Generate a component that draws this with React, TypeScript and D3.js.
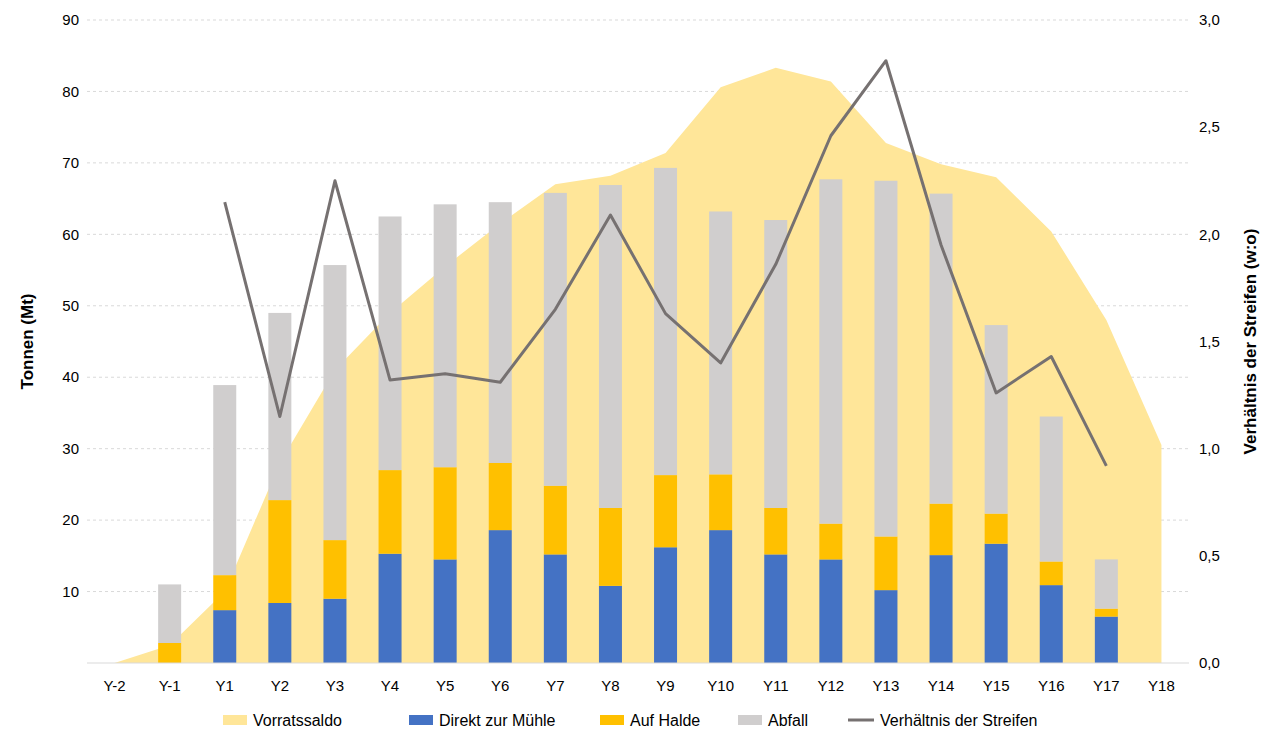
import * as d3 from 'd3';

const categories = ['Y-2','Y-1','Y1','Y2','Y3','Y4','Y5','Y6','Y7','Y8','Y9','Y10','Y11','Y12','Y13','Y14','Y15','Y16','Y17','Y18'];
const stockpileBalance = [0, 2.5, 10, 28, 41, 49, 55.5, 61.5, 67, 68.2, 71.4, 80.6, 83.3, 81.4, 72.8, 69.8, 68, 60.4, 48, 30.5];
const directToMill = [0, 0, 7.4, 8.4, 9, 15.3, 14.5, 18.6, 15.2, 10.8, 16.2, 18.6, 15.2, 14.5, 10.2, 15.1, 16.7, 10.9, 6.5, 0];
const toStockpile = [0, 2.8, 4.9, 14.4, 8.2, 11.7, 12.9, 9.4, 9.6, 10.9, 10.1, 7.8, 6.5, 5, 7.5, 7.2, 4.2, 3.3, 1.1, 0];
const waste = [0, 8.2, 26.6, 26.2, 38.5, 35.5, 36.8, 36.5, 41, 45.2, 43, 36.8, 40.3, 48.2, 49.8, 43.4, 26.4, 20.3, 6.9, 0];
const stripRatio: (number | null)[] = [null, null, 2.15, 1.15, 2.25, 1.32, 1.35, 1.31, 1.65, 2.09, 1.63, 1.40, 1.86, 2.46, 2.81, 1.95, 1.26, 1.43, 0.92, null];
const leftTicks = [10, 20, 30, 40, 50, 60, 70, 80, 90];
const rightTicks = [0, 0.5, 1, 1.5, 2, 2.5, 3];

const W = 1280, H = 749;
const font = '"Liberation Sans", Arial, sans-serif';
const colors = { area: '#FFE699', direct: '#4472C4', halde: '#FFC000', waste: '#D0CECE', line: '#767171' };

export default function App() {
  const x = d3.scaleBand().domain(categories).range([87, 1189]);
  const cx = (c: string) => (x(c) ?? 0) + x.bandwidth() / 2;
  const y = d3.scaleLinear().domain([0, 90]).range([663, 20]);
  const y2 = d3.scaleLinear().domain([0, 3]).range([663, 20]);
  const bw = 23;

  const area = d3.area<number>().x((_, i) => cx(categories[i])).y0(y(0)).y1(d => y(d));
  const line = d3.line<number | null>()
    .defined(d => d != null)
    .x((_, i) => cx(categories[i]))
    .y(d => y2(d as number));

  const fmt = (v: number) => v.toFixed(1).replace('.', ',');

  const legend = [
    { label: 'Vorratssaldo', color: colors.area, x: 253, type: 'rect' },
    { label: 'Direkt zur Mühle', color: colors.direct, x: 439, type: 'rect' },
    { label: 'Auf Halde', color: colors.halde, x: 630, type: 'rect' },
    { label: 'Abfall', color: colors.waste, x: 768, type: 'rect' },
    { label: 'Verhältnis der Streifen', color: colors.line, x: 880, type: 'line' },
  ];

  return (
    <svg width={W} height={H} style={{ position: 'absolute', left: 0, top: 0, background: '#fff', fontFamily: font }}>
      {leftTicks.map(t => (
        <line key={t} x1={87} x2={1189} y1={y(t)} y2={y(t)} stroke="#d9d9d9" strokeDasharray="3,3" />
      ))}
      <path d={area(stockpileBalance) ?? ''} fill={colors.area} />
      {categories.map((c, i) => {
        const x0 = cx(c) - bw / 2;
        const b1 = directToMill[i], b2 = b1 + toStockpile[i], b3 = b2 + waste[i];
        return (
          <g key={c}>
            {b1 > 0 && <rect x={x0} width={bw} y={y(b1)} height={y(0) - y(b1)} fill={colors.direct} />}
            {toStockpile[i] > 0 && <rect x={x0} width={bw} y={y(b2)} height={y(b1) - y(b2)} fill={colors.halde} />}
            {waste[i] > 0 && <rect x={x0} width={bw} y={y(b3)} height={y(b2) - y(b3)} fill={colors.waste} />}
          </g>
        );
      })}
      <path d={line(stripRatio) ?? ''} fill="none" stroke={colors.line} strokeWidth={3} strokeLinejoin="round" />
      <line x1={87} x2={1189} y1={663} y2={663} stroke="#d9d9d9" />
      {leftTicks.map(t => (
        <text key={t} x={79} y={y(t)} dy="0.35em" textAnchor="end" fontSize={15} fill="#000">{t}</text>
      ))}
      {rightTicks.map(t => (
        <text key={t} x={1199} y={y2(t)} dy="0.35em" fontSize={15} fill="#000">{fmt(t)}</text>
      ))}
      {categories.map(c => (
        <text key={c} x={cx(c)} y={691} textAnchor="middle" fontSize={15} fill="#000">{c}</text>
      ))}
      <text transform={`translate(33,${(20 + 663) / 2}) rotate(-90)`} textAnchor="middle" fontSize={17} fontWeight="bold">Tonnen (Mt)</text>
      <text transform={`translate(1256,${(20 + 663) / 2}) rotate(-90)`} textAnchor="middle" fontSize={17} fontWeight="bold">Verhältnis der Streifen (w:o)</text>
      {legend.map(l => (
        <g key={l.label}>
          {l.type === 'rect'
            ? <rect x={l.x - 30} y={715} width={24} height={10} fill={l.color} />
            : <line x1={l.x - 32} x2={l.x - 6} y1={720} y2={720} stroke={l.color} strokeWidth={3} />}
          <text x={l.x} y={720} dy="0.35em" fontSize={16}>{l.label}</text>
        </g>
      ))}
    </svg>
  );
}
